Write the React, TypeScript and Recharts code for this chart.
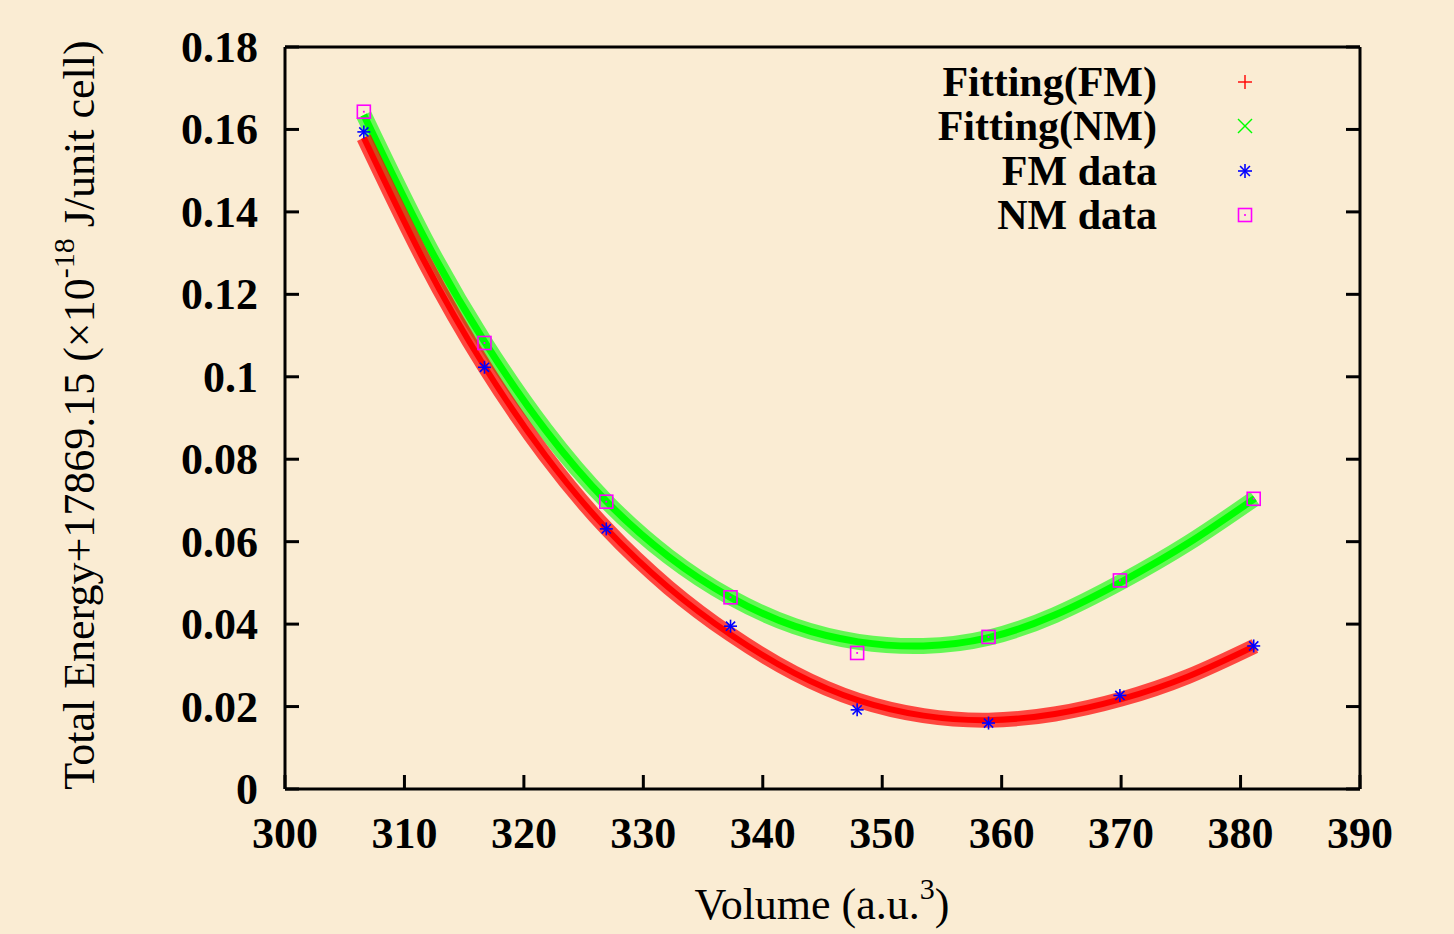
import React from 'react';
import { ComposedChart, Line, Scatter, XAxis, YAxis } from 'recharts';

// values
const fitVolumes = [
  306.6, 311.65, 316.7, 321.8, 326.9, 332.1, 337.3, 342.65, 348, 353.45, 358.9, 364.45, 370, 375.6, 381.2,
];
const fmFitEnergy = [
  0.158, 0.1281, 0.1025, 0.0809, 0.0632, 0.0489, 0.0375, 0.0281, 0.0215, 0.0178, 0.0167, 0.0182, 0.0218,
  0.0273, 0.0347,
];
const nmFitEnergy = [
  0.1635, 0.1338, 0.1085, 0.0871, 0.0698, 0.0564, 0.0465, 0.0395, 0.0357, 0.0347, 0.0367, 0.0422, 0.0502,
  0.0596, 0.0705,
];
const dataVolumes = [306.6, 316.7, 326.9, 337.3, 347.9, 358.9, 369.9, 381.1];
const fmDataEnergy = [0.1594, 0.1023, 0.0631, 0.0395, 0.0192, 0.016, 0.0227, 0.0347];
const nmDataEnergy = [0.1643, 0.1082, 0.0697, 0.0465, 0.033, 0.0369, 0.0506, 0.0704];

const xTicks = [300, 310, 320, 330, 340, 350, 360, 370, 380, 390];
const yTicks = [0, 0.02, 0.04, 0.06, 0.08, 0.1, 0.12, 0.14, 0.16, 0.18];
const legendLabels = ['Fitting(FM)', 'Fitting(NM)', 'FM data', 'NM data'];

const fmFit = fitVolumes.map((v, i) => ({ v, e: fmFitEnergy[i] }));
const nmFit = fitVolumes.map((v, i) => ({ v, e: nmFitEnergy[i] }));
const fmData = dataVolumes.map((v, i) => ({ v, e: fmDataEnergy[i] }));
const nmData = dataVolumes.map((v, i) => ({ v, e: nmDataEnergy[i] }));

const BG = '#FAECD3';
const FONT = '"Liberation Serif", "DejaVu Serif", serif';
const TICK = 14;
// plot frame in page pixels
const LEFT = 285;
const RIGHT = 1360;
const TOP = 47;
const BOTTOM = 789;

const fmtY = (v: number) => String(Number(v.toFixed(2)));

const Star = ({ cx, cy, r = 6.5, color = '#0000FF' }: any) => {
  if (cx == null || cy == null) return null;
  const d = r * 0.7071;
  return (
    <g stroke={color} strokeWidth={1.6}>
      <line x1={cx - r} y1={cy} x2={cx + r} y2={cy} />
      <line x1={cx} y1={cy - r} x2={cx} y2={cy + r} />
      <line x1={cx - d} y1={cy - d} x2={cx + d} y2={cy + d} />
      <line x1={cx - d} y1={cy + d} x2={cx + d} y2={cy - d} />
    </g>
  );
};

const Box = ({ cx, cy, r = 6.5, color = '#FF00FF' }: any) => {
  if (cx == null || cy == null) return null;
  return (
    <g>
      <rect x={cx - r} y={cy - r} width={2 * r} height={2 * r} fill="none" stroke={color} strokeWidth={1.6} />
      <rect x={cx - 0.9} y={cy - 0.9} width={1.8} height={1.8} fill={color} />
    </g>
  );
};

const BottomTick = (props: any) => {
  const { x, payload } = props;
  return (
    <g>
      <line x1={x} y1={BOTTOM} x2={x} y2={BOTTOM - TICK} stroke="#000" strokeWidth={3} />
      <text x={x} y={BOTTOM + 59} textAnchor="middle" fontFamily={FONT} fontWeight="bold" fontSize={44} fill="#000">
        {payload.value}
      </text>
    </g>
  );
};

const LeftTick = (props: any) => {
  const { y, payload } = props;
  return (
    <g>
      <line x1={LEFT} y1={y} x2={LEFT + TICK} y2={y} stroke="#000" strokeWidth={3} />
      <text x={LEFT - 27} y={y + 15} textAnchor="end" fontFamily={FONT} fontWeight="bold" fontSize={44} fill="#000">
        {fmtY(payload.value)}
      </text>
    </g>
  );
};

const TopTick = ({ x }: any) => (
  <line x1={x} y1={TOP} x2={x} y2={TOP + TICK} stroke="#000" strokeWidth={3} />
);

const RightTick = ({ y }: any) => (
  <line x1={RIGHT} y1={y} x2={RIGHT - TICK} y2={y} stroke="#000" strokeWidth={3} />
);

const App = () => {
  const W = 1454;
  const H = 934;
  const legendRows = [96, 140, 185, 229];

  return (
    <div style={{ position: 'absolute', left: 0, top: 0, width: W, height: H, background: BG }}>
      <ComposedChart width={W} height={H} margin={{ top: TOP - 1, right: W - RIGHT - 1, bottom: 85, left: 165 }}>
        <XAxis
          xAxisId="b"
          dataKey="v"
          type="number"
          domain={[300, 390]}
          ticks={xTicks}
          height={60}
          tickSize={0}
          tickMargin={0}
          axisLine={{ stroke: '#000', strokeWidth: 3 }}
          tickLine={false}
          tick={<BottomTick />}
          allowDataOverflow
        />
        <XAxis
          xAxisId="t"
          orientation="top"
          type="number"
          domain={[300, 390]}
          ticks={xTicks}
          height={1}
          tickSize={0}
          tickMargin={0}
          axisLine={{ stroke: '#000', strokeWidth: 3 }}
          tickLine={false}
          tick={<TopTick />}
          allowDataOverflow
        />
        <YAxis
          yAxisId="l"
          dataKey="e"
          type="number"
          domain={[0, 0.18]}
          ticks={yTicks}
          width={120}
          tickSize={0}
          tickMargin={0}
          axisLine={{ stroke: '#000', strokeWidth: 3 }}
          tickLine={false}
          tick={<LeftTick />}
          allowDataOverflow
        />
        <YAxis
          yAxisId="r"
          orientation="right"
          type="number"
          domain={[0, 0.18]}
          ticks={yTicks}
          width={1}
          tickSize={0}
          tickMargin={0}
          axisLine={{ stroke: '#000', strokeWidth: 3 }}
          tickLine={false}
          tick={<RightTick />}
          allowDataOverflow
        />
        {/* fitted curves: wide hatched-looking band plus solid core */}
        <Line xAxisId="b" yAxisId="l" data={nmFit} dataKey="e" type="natural" stroke="#00FF00" strokeOpacity={0.6}
          strokeWidth={16} dot={false} isAnimationActive={false} />
        <Line xAxisId="b" yAxisId="l" data={nmFit} dataKey="e" type="natural" stroke="#00FF00"
          strokeWidth={7} dot={false} isAnimationActive={false} />
        <Line xAxisId="b" yAxisId="l" data={fmFit} dataKey="e" type="natural" stroke="#FF0000" strokeOpacity={0.7}
          strokeWidth={15} dot={false} isAnimationActive={false} />
        <Line xAxisId="b" yAxisId="l" data={fmFit} dataKey="e" type="natural" stroke="#FF0000"
          strokeWidth={6} dot={false} isAnimationActive={false} />
        <Scatter xAxisId="b" yAxisId="l" data={fmData} dataKey="e" shape={<Star />} isAnimationActive={false} />
        <Scatter xAxisId="b" yAxisId="l" data={nmData} dataKey="e" shape={<Box />} isAnimationActive={false} />
      </ComposedChart>

      <svg width={W} height={H} style={{ position: 'absolute', left: 0, top: 0, pointerEvents: 'none' }}>
        {legendLabels.map((label, i) => (
          <text key={label} x={1157} y={legendRows[i]} textAnchor="end" fontFamily={FONT} fontWeight="bold"
            fontSize={42} fill="#000">
            {label}
          </text>
        ))}
        <g stroke="#FF0000" strokeWidth={1.4}>
          <line x1={1238} y1={82} x2={1252} y2={82} />
          <line x1={1245} y1={75} x2={1245} y2={89} />
        </g>
        <g stroke="#00FF00" strokeWidth={1.4}>
          <line x1={1238} y1={119} x2={1252} y2={133} />
          <line x1={1238} y1={133} x2={1252} y2={119} />
        </g>
        <Star cx={1245} cy={171} r={7} />
        <Box cx={1245} cy={215} r={6.5} />

        <text x={822} y={919} textAnchor="middle" fontFamily={FONT} fontSize={44} fill="#000">
          Volume (a.u.<tspan dy={-20} fontSize={30}>3</tspan><tspan dy={20}>)</tspan>
        </text>
        <text transform="translate(94,415) rotate(-90)" textAnchor="middle" fontFamily={FONT} fontSize={44} fill="#000">
          Total Energy+17869.15 (×10<tspan dy={-20} fontSize={30}>-18</tspan>
          <tspan dy={20}> J/unit cell)</tspan>
        </text>
      </svg>
    </div>
  );
};

export default App;
